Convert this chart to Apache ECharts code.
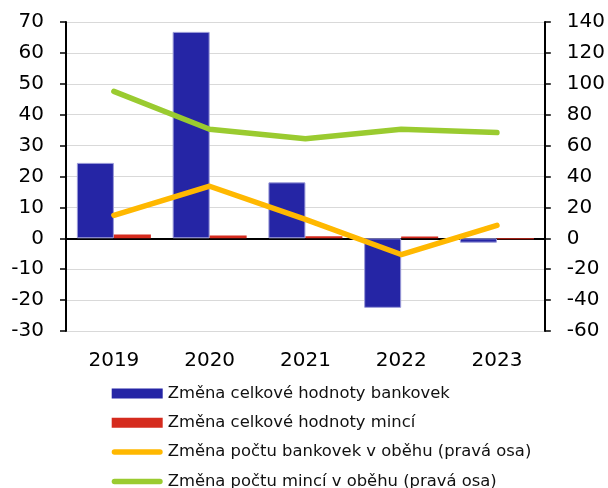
<!DOCTYPE html>
<html lang="cs">

<head>
	<title>Změny oběživa</title>
	<meta charset="UTF-8" />
	<script src="https://cdn.jsdelivr.net/npm/echarts@6/dist/echarts.min.js"></script>

	<style type="text/css">
		body {
			margin: 0;
			background-color: #ffffff;
		}

		#chart {
			width: 608px;
			height: 488px;
		}
	</style>
</head>

<body>
	<div id="chart"></div>

	<script>
		//--------------------------- data ---------------------------//

		const years = ['2019', '2020', '2021', '2022', '2023'];

		const bankovkyHodnota = [24.4, 66.8, 18.1, -22.5, -1.4];    // levá osa
		const minceHodnota = [1.2, 0.9, 0.7, 0.6, -0.3];            // levá osa
		const bankovkyPocet = [14.9, 33.7, 12.3, -10.5, 8.4];       // pravá osa
		const mincePocet = [95.1, 70.6, 64.5, 70.6, 68.4];          // pravá osa

		const seriesNames = [
			'Změna celkové hodnoty bankovek',
			'Změna celkové hodnoty mincí',
			'Změna počtu bankovek v oběhu (pravá osa)',
			'Změna počtu mincí v oběhu (pravá osa)'
		];

		//--------------------------- graf ---------------------------//

		const font = 'DejaVu Sans';

		// ikona čáry v legendě (zaoblené konce)
		const lineIcon = 'path://M2.75,0 H48.25 A2.75,2.75 0 0 1 48.25,5.5 H2.75 A2.75,2.75 0 0 1 2.75,0 Z';

		var chart = echarts.init(document.getElementById('chart'));

		chart.setOption({
			animation: false,
			grid: {
				left: 66,
				right: 61.5,
				top: 22,
				bottom: 157
			},
			legend: {
				orient: 'vertical',
				left: 111.7,
				top: 385.5,
				height: 150,
				width: 600,
				padding: 0,
				itemWidth: 51,
				itemHeight: 10,
				itemGap: 13.3,
				itemStyle: { borderWidth: 0 },
				textStyle: { fontFamily: font, fontSize: 16.4, color: '#111' },
				data: [
					{ name: seriesNames[0], icon: 'rect', itemStyle: { borderWidth: 0, borderColor: '#2525a5' } },
					{ name: seriesNames[1], icon: 'rect' },
					{ name: seriesNames[2], icon: lineIcon },
					{ name: seriesNames[3], icon: lineIcon }
				]
			},
			xAxis: [
				{
					type: 'category',
					data: years,
					position: 'bottom',
					axisLine: { show: false, onZero: false },
					axisTick: { show: false },
					axisLabel: { fontFamily: font, fontSize: 20, color: '#000', margin: 19.5 }
				},
				{
					// čára v nule
					type: 'category',
					data: years,
					position: 'top',
					axisLine: { show: true, onZero: true, onZeroAxisIndex: 0, lineStyle: { color: '#000', width: 2 } },
					axisTick: { show: false },
					axisLabel: { show: false }
				}
			],
			yAxis: [
				{
					type: 'value',
					min: -30,
					max: 70,
					interval: 10,
					axisLine: { show: true, lineStyle: { color: '#000', width: 2 } },
					axisTick: { show: true, length: 6, lineStyle: { color: '#000', width: 1.5 } },
					axisLabel: { fontFamily: font, fontSize: 20, color: '#000', margin: 22 },
					splitLine: { show: true, lineStyle: { color: '#d9d9d9', width: 1 } }
				},
				{
					type: 'value',
					min: -60,
					max: 140,
					interval: 20,
					position: 'right',
					axisLine: { show: true, lineStyle: { color: '#000', width: 2 } },
					axisTick: { show: true, length: 6, lineStyle: { color: '#000', width: 1.5 } },
					axisLabel: { fontFamily: font, fontSize: 20, color: '#000', margin: 22 },
					splitLine: { show: false }
				}
			],
			series: [
				{
					name: seriesNames[0],
					type: 'bar',
					yAxisIndex: 0,
					data: bankovkyHodnota,
					barWidth: 37,
					barGap: '0%',
					itemStyle: { color: '#2525a5', borderColor: '#9a9ad8', borderWidth: 1 }
				},
				{
					name: seriesNames[1],
					type: 'bar',
					yAxisIndex: 0,
					data: minceHodnota,
					barWidth: 37,
					barGap: '0%',
					itemStyle: { color: '#d52b1e' }
				},
				{
					name: seriesNames[2],
					type: 'line',
					yAxisIndex: 1,
					data: bankovkyPocet,
					symbol: 'none',
					lineStyle: { color: '#ffb800', width: 5.5, cap: 'round', join: 'round' },
					itemStyle: { color: '#ffb800' },
					z: 5
				},
				{
					name: seriesNames[3],
					type: 'line',
					yAxisIndex: 1,
					data: mincePocet,
					symbol: 'none',
					lineStyle: { color: '#9acb30', width: 5.5, cap: 'round', join: 'round' },
					itemStyle: { color: '#9acb30' },
					z: 5
				}
			]
		});
	</script>
</body>

</html>
